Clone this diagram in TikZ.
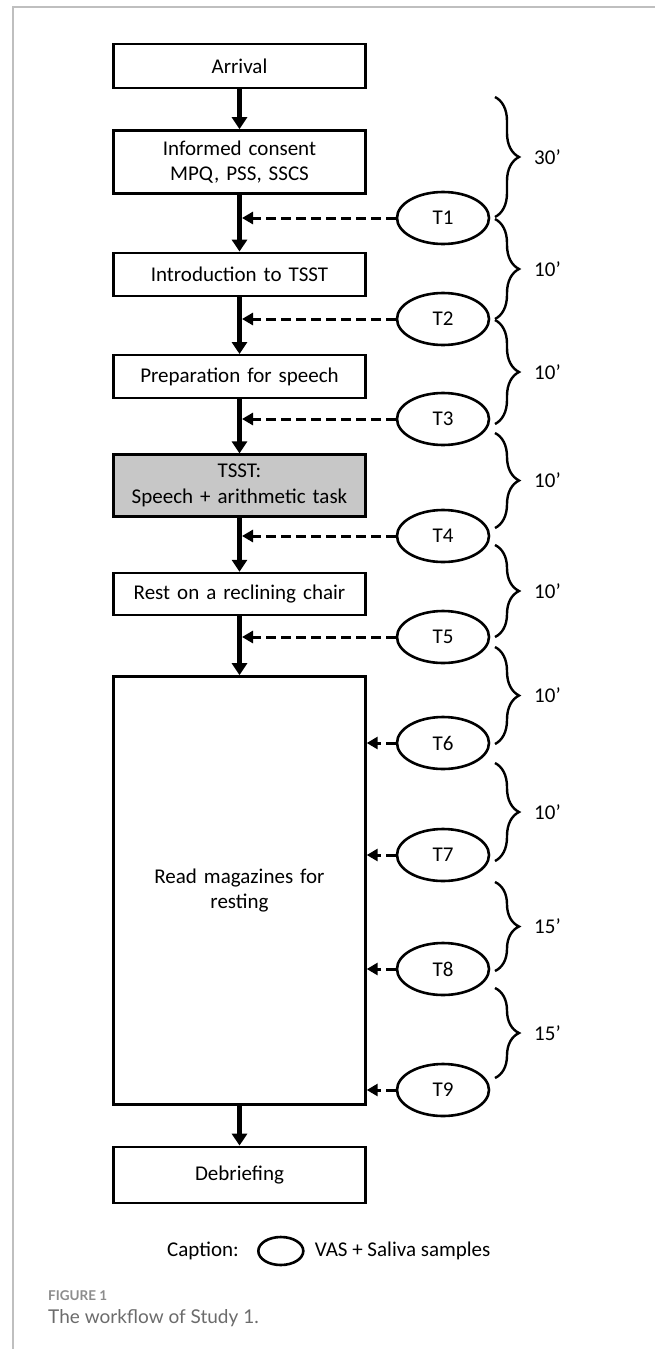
\documentclass[tikz,border=0pt]{standalone}
\usepackage{fontspec}
\setmainfont{Carlito}
\newfontfamily\capfont{Lato}
\usetikzlibrary{positioning}
\usetikzlibrary{shapes.geometric,arrows.meta,decorations.pathreplacing}

\begin{document}
\begin{tikzpicture}[x=1pt, y=1pt, node distance={40pt},
    main/.style={rectangle, draw, line width=2.4pt, minimum width=252pt, text width=245pt, inner sep=0pt, align=center, font=\fontsize{21}{25.5}\selectfont},
    ts/.style={ellipse, draw, line width=2.6pt, minimum width=92pt, minimum height=52pt, inner sep=0pt, font=\fontsize{21}{24}\selectfont},
    ar/.style={line width=5pt, -{Triangle[length=12pt,width=15pt]}},
    dar/.style={line width=3pt, dash pattern=on 10pt off 5pt, -{Triangle[length=11pt,width=12pt]}},
    br/.style={decorate, decoration={brace, amplitude=24pt}, line width=2.4pt},
    lab/.style={inner sep=0pt, anchor=west, font=\fontsize{21}{24}\selectfont}]
      \useasboundingbox (0,0) rectangle (655,-1349);
      \draw[black!25, line width=1.3pt] (13,-1349) -- (13,-7) -- (655,-7);

      % steps of the session
      \node[main, minimum height=44pt] (1) at (239.5,-66) {Arrival};
      \node[main, minimum height=63pt] (2) [below=40pt of 1] {Informed consent\\MPQ, PSS, SSCS};
      \node[main, minimum height=43pt] (3) [below=57pt of 2] {Introduction to TSST};
      \node[main, minimum height=43pt] (4) [below=57pt of 3] {Preparation for speech};
      \node[main, minimum height=62pt, fill=black!22] (5) [below=54pt of 4] {TSST:\\Speech + arithmetic task};
      \node[main, minimum height=42pt] (6) [below=54pt of 5] {Rest on a reclining chair};
      \node[main, minimum height=428pt] (7) [below=59pt of 6] {Read magazines for\\resting};
      \node[main, minimum height=56pt] (8) [below=40pt of 7] {Debriefing};

      \draw[ar] (1) -- (2);
      \draw[ar] (2) -- (3);
      \draw[ar] (3) -- (4);
      \draw[ar] (4) -- (5);
      \draw[ar] (5) -- (6);
      \draw[ar] (6) -- (7);
      \draw[ar] (7) -- (8);

      % sampling points
      \node[ts] (T1) at (443,-218) {T1};
      \node[ts] (T2) at (443,-319) {T2};
      \node[ts] (T3) at (443,-419) {T3};
      \node[ts] (T4) at (443,-536) {T4};
      \node[ts] (T5) at (443,-637) {T5};
      \node[ts] (T6) at (443,-743) {T6};
      \node[ts] (T7) at (443,-855) {T7};
      \node[ts] (T8) at (443,-969) {T8};
      \node[ts] (T9) at (443,-1090) {T9};

      \draw[dar, shorten >=2.5pt] (T1) -- (T1 -| 2.south);
      \draw[dar, shorten >=2.5pt] (T2) -- (T2 -| 3.north);
      \draw[dar, shorten >=2.5pt] (T3) -- (T3 -| 4.south);
      \draw[dar, shorten >=2.5pt] (T4) -- (T4 -| 5.south);
      \draw[dar, shorten >=2.5pt] (T5) -- (T5 -| 6.south);
      \draw[dar] (T6) -- (T6 -| 7.east);
      \draw[dar] (T7) -- (T7 -| 7.east);
      \draw[dar] (T8) -- (T8 -| 7.east);
      \draw[dar] (T9) -- (T9 -| 7.east);

      % time spans
      \draw[br] (495,-97) -- (495,-217) node[lab, midway, xshift=38pt] {30’};
      \draw[br] (495,-219) -- (495,-319) node[lab, midway, xshift=38pt] {10’};
      \draw[br] (495,-320) -- (495,-424) node[lab, midway, xshift=38pt] {10’};
      \draw[br] (495,-433) -- (495,-528) node[lab, midway, xshift=38pt] {10’};
      \draw[br] (495,-545) -- (495,-637) node[lab, midway, xshift=38pt] {10’};
      \draw[br] (495,-647) -- (495,-744) node[lab, midway, xshift=38pt] {10’};
      \draw[br] (495,-763) -- (495,-861) node[lab, midway, xshift=38pt] {10’};
      \draw[br] (495,-882) -- (495,-971) node[lab, midway, xshift=38pt] {15’};
      \draw[br] (495,-988) -- (495,-1078) node[lab, midway, xshift=38pt] {15’};

      % legend
      \node[lab] (cap) at (167,-1251) {Caption:};
      \node[ellipse, draw, line width=2.6pt, minimum width=45pt, minimum height=28pt, inner sep=0pt] (leg) [right=18pt of cap] {};
      \node[lab] (vas) [right=10pt of leg] {VAS + Saliva samples};

      \node[inner sep=0pt, anchor=west, text=black!45, font=\capfont\bfseries\fontsize{13.5}{15}\selectfont] (fig) at (48,-1296) {FIGURE 1};
      \node[inner sep=0pt, anchor=west, text=black!58, font=\capfont\fontsize{19}{22}\selectfont] (title) at (48,-1318) {The workflow of Study 1.};
    \end{tikzpicture}
\end{document}
